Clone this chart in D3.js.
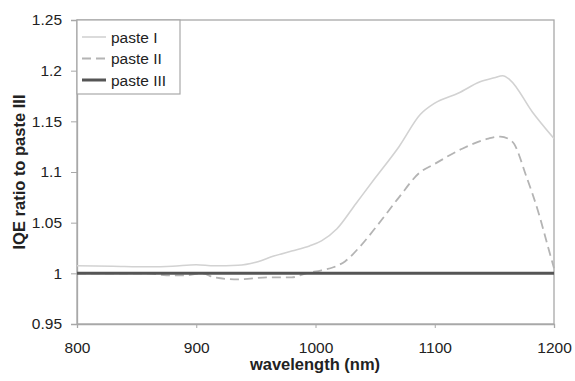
<!DOCTYPE html>
<html>
<head>
<meta charset="utf-8">
<script src="https://cdn.jsdelivr.net/npm/d3@7"></script>
<style>
  body { margin: 0; background: #fff; }
  svg { font-family: "Liberation Sans", Arial, sans-serif; }
</style>
</head>
<body>
<svg id="chart" width="575" height="381"></svg>
<script>
let seriesNames = ["paste I", "paste II", "paste III"];

let pasteIWl  = [800, 830, 860, 880, 900, 915, 935, 950, 965, 980, 995, 1005, 1018, 1034, 1050, 1070, 1088, 1100, 1120, 1138, 1150, 1157, 1163, 1182, 1200];
let pasteIVal = [1.0075, 1.007, 1.0065, 1.007, 1.0085, 1.0075, 1.008, 1.011, 1.017, 1.022, 1.027, 1.032, 1.044, 1.069, 1.094, 1.125, 1.157, 1.168, 1.178, 1.189, 1.193, 1.195, 1.191, 1.159, 1.133];

let pasteIIWl  = [800, 860, 875, 890, 905, 915, 935, 960, 980, 992, 1005, 1015, 1025, 1037, 1051, 1070, 1087, 1100, 1123, 1145, 1155, 1165, 1177, 1188, 1195, 1200];
let pasteIIVal = [1.0, 1.0, 0.998, 0.998, 1.0, 0.996, 0.994, 0.996, 0.996, 1.0, 1.003, 1.006, 1.012, 1.026, 1.046, 1.075, 1.099, 1.108, 1.123, 1.133, 1.135, 1.13, 1.095, 1.056, 1.026, 1.005];

let pasteIIIWl  = [800, 1200];
let pasteIIIVal = [1.0, 1.0];

let xTicks = [800, 900, 1000, 1100, 1200];
let yTicks = [0.95, 1, 1.05, 1.1, 1.15, 1.2, 1.25];

let svg = d3.select("#chart");
let margin = {l: 77, r: 21, t: 20, b: 57};
let w = 575 - margin.l - margin.r;
let h = 381 - margin.t - margin.b;

let xMap = d3.scaleLinear().domain([800, 1200]).range([margin.l, margin.l + w]);
let yMap = d3.scaleLinear().domain([0.95, 1.25]).range([margin.t + h, margin.t]);

let frameColor = "#a8a8a8";

// plot frame
svg.append("rect")
    .attr("x", margin.l).attr("y", margin.t)
    .attr("width", w).attr("height", h)
    .attr("fill", "none")
    .attr("stroke", frameColor)
    .attr("stroke-width", 1.3);

// y axis
let yAxis = d3.axisLeft(yMap).tickValues(yTicks).tickSize(6).tickPadding(9)
    .tickFormat(d => String(+d.toFixed(2)));
let gy = svg.append("g").attr("transform", `translate(${margin.l},0)`).call(yAxis);
gy.select(".domain").attr("stroke", frameColor).attr("stroke-width", 1.3);
gy.selectAll(".tick line").attr("stroke", frameColor);
gy.selectAll("text").attr("font-size", 15.5).attr("fill", "#222").style("font-family", "inherit");

// x axis
let xAxis = d3.axisBottom(xMap).tickValues(xTicks).tickSize(4).tickPadding(14)
    .tickFormat(d => String(d));
let gx = svg.append("g").attr("transform", `translate(0,${margin.t + h})`).call(xAxis);
gx.select(".domain").attr("stroke", frameColor).attr("stroke-width", 1.3);
gx.selectAll(".tick line").attr("stroke", frameColor);
gx.selectAll("text").attr("font-size", 15.5).attr("fill", "#222").style("font-family", "inherit");

// axis titles
svg.append("text")
    .attr("x", 315).attr("y", 370)
    .attr("text-anchor", "middle")
    .attr("font-size", 16.5).attr("font-weight", "bold").attr("fill", "#222")
    .text("wavelength (nm)");
svg.append("text")
    .attr("transform", "translate(25,172) rotate(-90)")
    .attr("text-anchor", "middle")
    .attr("font-size", 16.5).attr("font-weight", "bold").attr("fill", "#222")
    .text("IQE ratio to paste III");

let styles = [
    {color: "#d2d2d2", width: 1.6, dash: null},
    {color: "#b4b4b4", width: 1.8, dash: "9,5"},
    {color: "#555555", width: 3, dash: null}
];
let series = [
    d3.zip(pasteIWl, pasteIVal),
    d3.zip(pasteIIWl, pasteIIVal),
    d3.zip(pasteIIIWl, pasteIIIVal)
];

let line = d3.line()
    .x(d => xMap(d[0]))
    .y(d => yMap(d[1]))
    .curve(d3.curveMonotoneX);

series.forEach((s, i) => {
    svg.append("path")
        .datum(s)
        .attr("d", line)
        .attr("fill", "none")
        .attr("stroke", styles[i].color)
        .attr("stroke-width", styles[i].width)
        .attr("stroke-dasharray", styles[i].dash);
});

// legend
let lg = svg.append("g").attr("transform", `translate(${margin.l},${margin.t})`);
lg.append("rect")
    .attr("width", 103).attr("height", 74)
    .attr("fill", "#fff")
    .attr("stroke", frameColor).attr("stroke-width", 1.2);
seriesNames.forEach((name, i) => {
    let yy = 17 + i * 21.5;
    lg.append("line")
        .attr("x1", 5).attr("x2", 29).attr("y1", yy).attr("y2", yy)
        .attr("stroke", styles[i].color)
        .attr("stroke-width", styles[i].width)
        .attr("stroke-dasharray", styles[i].dash);
    lg.append("text")
        .attr("x", 34).attr("y", yy + 5.5)
        .attr("font-size", 15.5).attr("fill", "#222")
        .text(name);
});
</script>
</body>
</html>
